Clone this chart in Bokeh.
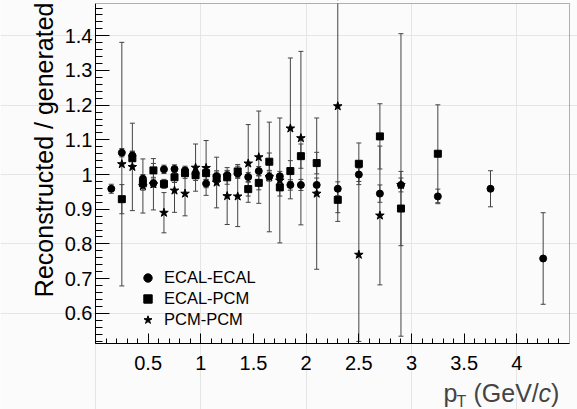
import math
import numpy as np
from bokeh.plotting import figure
from bokeh.models import (ColumnDataSource, Whisker, TeeHead, FixedTicker, LinearAxis,
                          CustomJSTickFormatter, Label, Legend, LegendItem, Range1d,
                          BoxAnnotation)
from bokeh.embed import file_html
from bokeh.resources import INLINE

# ECAL-ECAL: p_T bin centres (GeV/c), ratio and its uncertainty
pt_ee = [0.15, 0.25, 0.35, 0.45, 0.55, 0.65, 0.75, 0.85, 0.95, 1.05, 1.15, 1.25, 1.35,
         1.45, 1.55, 1.65, 1.75, 1.85, 1.95, 2.1, 2.3, 2.5, 2.7, 2.9, 3.25, 3.75, 4.25]
ratio_ee = [0.959, 1.063, 1.055, 0.988, 0.975, 1.015, 1.016, 1.012, 1.002, 0.974, 0.995, 0.998, 1.003,
            0.993, 1.010, 0.994, 0.995, 0.970, 0.970, 0.970, 0.959, 1.000, 0.945, 0.970, 0.937, 0.959, 0.758]
err_ee = [0.013, 0.012, 0.012, 0.012, 0.012, 0.012, 0.012, 0.012, 0.012, 0.012, 0.012, 0.012, 0.012,
          0.013, 0.013, 0.013, 0.014, 0.015, 0.016, 0.020, 0.020, 0.020, 0.025, 0.020, 0.021, 0.052, 0.132]

# ECAL-PCM
pt_ep = [0.25, 0.35, 0.45, 0.55, 0.65, 0.75, 0.85, 0.95, 1.05, 1.15, 1.25, 1.35,
         1.45, 1.55, 1.65, 1.75, 1.85, 1.95, 2.1, 2.3, 2.5, 2.7, 2.9, 3.25]
ratio_ep = [0.929, 1.047, 0.975, 1.012, 0.973, 0.992, 1.004, 0.998, 1.004, 0.991, 0.992, 1.009,
            0.958, 0.976, 1.037, 0.963, 1.010, 1.053, 1.033, 0.927, 1.031, 1.110, 0.902, 1.060]
err_ep = [0.042, 0.020, 0.020, 0.020, 0.013, 0.015, 0.015, 0.015, 0.018, 0.020, 0.020, 0.020,
          0.020, 0.020, 0.025, 0.025, 0.030, 0.035, 0.031, 0.037, 0.060, 0.094, 0.107, 0.141]

# PCM-PCM
pt_pp = [0.25, 0.35, 0.45, 0.55, 0.65, 0.75, 0.85, 0.95, 1.05, 1.15, 1.25, 1.35,
         1.45, 1.55, 1.65, 1.75, 1.85, 1.95, 2.1, 2.3, 2.5, 2.7, 2.9]
ratio_pp = [1.030, 1.022, 0.967, 0.972, 0.890, 0.954, 0.945, 1.020, 1.019, 0.977, 0.938, 0.937,
            1.032, 1.050, 0.993, 0.983, 1.133, 1.105, 0.945, 1.197, 0.769, 0.882, 0.970]
err_pp = [0.351, 0.126, 0.078, 0.074, 0.058, 0.063, 0.064, 0.068, 0.079, 0.073, 0.082, 0.087,
          0.112, 0.133, 0.158, 0.180, 0.203, 0.250, 0.218, 0.332, 0.250, 0.200, 0.436]

x_ticks = [0.5, 1.0, 1.5, 2.0, 2.5, 3.0, 3.5, 4.0]
y_ticks = [0.6, 0.7, 0.8, 0.9, 1.0, 1.1, 1.2, 1.3, 1.4]

FONT = "Liberation Sans"
BG = "#fbfbfb"
BAR = "#444444"

W, H = 577, 409
# data window of the plotting frame and its pixel box on the canvas
X0, X1 = 0.0, 4.5
Y0, Y1 = 0.513, 1.493
FL, FR, FT, FB = 95, 569, 3, 343
kx = (FR - FL) / (X1 - X0)
ky = (FB - FT) / (Y1 - Y0)


def make_source(pt, ratio, err):
    up = [r + e for r, e in zip(ratio, err)]
    lo = [r - e for r, e in zip(ratio, err)]
    return ColumnDataSource(dict(pt=pt, ratio=ratio, upper=up, lower=lo))


src_ee = make_source(pt_ee, ratio_ee, err_ee)
src_ep = make_source(pt_ep, ratio_ep, err_ep)
src_pp = make_source(pt_pp, ratio_pp, err_pp)

# the canvas is the whole drawing area; axes are pinned to the frame edges
p = figure(width=W, height=H, output_backend="svg", toolbar_location=None,
           x_range=Range1d(X0 - FL / kx, X1 + (W - FR) / kx),
           y_range=Range1d(Y0 - (H - FB) / ky, Y1 + FT / ky),
           x_axis_location=None, y_axis_location=None,
           min_border=0, min_border_left=0, min_border_right=0,
           min_border_top=0, min_border_bottom=0,
           background_fill_color=BG, border_fill_color=BG)
p.outline_line_color = None

# error bars with small end caps
for src in (src_pp, src_ee, src_ep):
    w = Whisker(source=src, base="pt", upper="upper", lower="lower", dimension="height",
                line_color=BAR, line_width=1, level="underlay",
                upper_head=TeeHead(size=5, line_color=BAR, line_width=1),
                lower_head=TeeHead(size=5, line_color=BAR, line_width=1))
    p.add_layout(w)

r_pp = p.scatter("pt", "ratio", source=src_pp, marker="star", size=9,
                 fill_color="black", line_color="black")
r_ee = p.scatter("pt", "ratio", source=src_ee, marker="circle", size=7,
                 fill_color="black", line_color="black")
r_ep = p.scatter("pt", "ratio", source=src_ep, marker="square", size=7,
                 fill_color="black", line_color="black")

# hide anything that runs past the top of the frame, then draw the frame box
p.add_layout(BoxAnnotation(bottom=Y1, fill_color=BG, fill_alpha=1.0, line_alpha=0,
                           level="annotation"))
p.add_layout(BoxAnnotation(left=X0, right=X1, bottom=Y0, top=Y1, fill_alpha=0,
                           line_color="black", line_width=1, level="annotation"))

fmt = CustomJSTickFormatter(code="return String(Math.round(tick * 10) / 10);")

xa = LinearAxis(fixed_location=Y0, bounds=(X0, X1),
                ticker=FixedTicker(ticks=x_ticks,
                                   minor_ticks=list(np.round(np.arange(0.1, 4.5, 0.1), 2))),
                formatter=fmt,
                major_tick_in=10, major_tick_out=0, minor_tick_in=5, minor_tick_out=0,
                axis_line_color="black", major_tick_line_color="black",
                minor_tick_line_color="black",
                major_label_text_font=FONT, major_label_text_font_size="20px",
                major_label_text_color="black", major_label_standoff=12)
p.add_layout(xa, "below")

ya = LinearAxis(fixed_location=X0, bounds=(Y0, Y1),
                ticker=FixedTicker(ticks=y_ticks,
                                   minor_ticks=list(np.round(np.arange(0.52, 1.49, 0.02), 3))),
                formatter=fmt,
                major_tick_in=14, major_tick_out=0, minor_tick_in=7, minor_tick_out=0,
                axis_line_color="black", major_tick_line_color="black",
                minor_tick_line_color="black",
                major_label_text_font=FONT, major_label_text_font_size="20px",
                major_label_text_color="black", major_label_standoff=3)
p.add_layout(ya, "left")

# axis titles (screen offsets from the canvas' bottom-left corner)
p.add_layout(Label(x=43, y=H - 2, x_units="screen", y_units="screen",
                   text="Reconstructed / generated", angle=math.pi / 2,
                   text_align="right", text_baseline="alphabetic",
                   text_font=FONT, text_font_size="25px", text_color="black"))

xt_base = H - 392
p.add_layout(Label(x=443, y=xt_base, x_units="screen", y_units="screen", text="p",
                   text_baseline="alphabetic", text_font=FONT, text_font_size="25px"))
p.add_layout(Label(x=456, y=xt_base - 9, x_units="screen", y_units="screen", text="T",
                   text_baseline="alphabetic", text_font=FONT, text_font_size="16px"))
p.add_layout(Label(x=473, y=xt_base, x_units="screen", y_units="screen", text="(GeV/",
                   text_baseline="alphabetic", text_font=FONT, text_font_size="25px"))
p.add_layout(Label(x=538, y=xt_base, x_units="screen", y_units="screen", text="c",
                   text_baseline="alphabetic", text_font=FONT, text_font_size="25px",
                   text_font_style="italic"))
p.add_layout(Label(x=550.5, y=xt_base, x_units="screen", y_units="screen", text=")",
                   text_baseline="alphabetic", text_font=FONT, text_font_size="25px"))

legend = Legend(items=[LegendItem(label="ECAL-ECAL", renderers=[r_ee]),
                       LegendItem(label="ECAL-PCM", renderers=[r_ep]),
                       LegendItem(label="PCM-PCM", renderers=[r_pp])],
                location=(135, 79), orientation="vertical",
                glyph_width=25, glyph_height=21, label_height=21, spacing=0,
                padding=0, margin=0, label_standoff=4,
                border_line_alpha=0, background_fill_alpha=0,
                label_text_font=FONT, label_text_font_size="16.5px", label_text_color="black")
p.add_layout(legend)

open("out.html", "w").write(file_html(p, INLINE))
